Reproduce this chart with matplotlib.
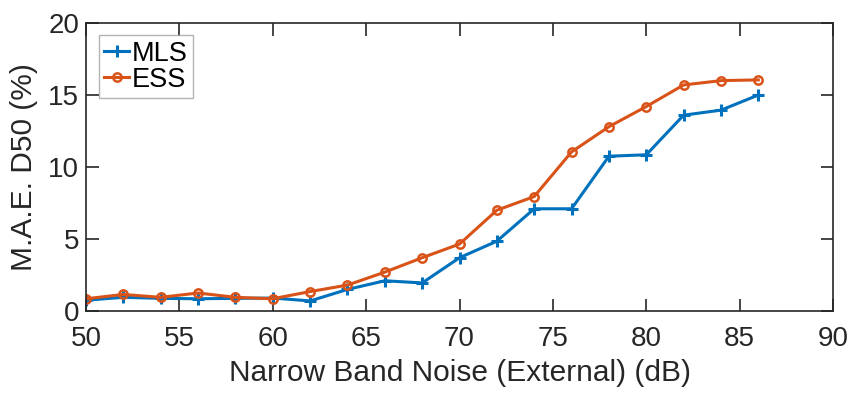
import matplotlib.pyplot as plt

# noise level (dB) and mean absolute error of D50 (%)
noise_db = [50, 52, 54, 56, 58, 60, 62, 64, 66, 68, 70, 72, 74, 76, 78, 80, 82, 84, 86]
mae_mls = [0.75, 0.95, 0.88, 0.85, 0.88, 0.9, 0.7, 1.5, 2.1, 1.95, 3.7, 4.85, 7.1, 7.1, 10.75, 10.85, 13.6, 13.95, 15.0]
mae_ess = [0.85, 1.15, 0.95, 1.25, 0.95, 0.85, 1.35, 1.8, 2.7, 3.7, 4.65, 7.0, 7.95, 11.05, 12.8, 14.2, 15.7, 16.0, 16.05]

plt.rcParams['font.family'] = ['Liberation Sans', 'DejaVu Sans']

fig = plt.figure(figsize=(8.53, 3.97), dpi=100)
ax = fig.add_axes([0.1008, 0.2166, 0.8758, 0.7254])

ax.plot(noise_db, mae_mls, color="#0072BD", linewidth=2.2, marker="+", markersize=8,
        markeredgewidth=2.2, label="MLS")
ax.plot(noise_db, mae_ess, color="#D95319", linewidth=2.2, marker="o", markersize=6,
        markerfacecolor="none", markeredgewidth=1.8, label="ESS")

ax.set_xlim(50, 90)
ax.set_ylim(0, 20)
ax.set_xticks(range(50, 91, 5))
ax.set_yticks(range(0, 21, 5))
ax.tick_params(direction="in", length=9, width=1.2, top=True, right=True,
               labelsize=20, colors="#262626")
ax.tick_params(axis="x", pad=11)
ax.tick_params(axis="y", pad=5)
for spine in ax.spines.values():
    spine.set_linewidth(1.2)
    spine.set_color("#262626")

ax.set_xlabel("Narrow Band Noise (External) (dB)", fontsize=21.5, color="#262626", labelpad=5)
ax.set_ylabel("M.A.E. D50 (%)", fontsize=21.5, color="#262626", labelpad=7)

leg = ax.legend(loc="upper left", fontsize=19.5, handlelength=0.9, handletextpad=0.1,
                borderpad=0.2, labelspacing=0.0, fancybox=False, borderaxespad=0,
                bbox_to_anchor=(0.0175, 0.958))
leg.get_frame().set_edgecolor("#a0a0a0")
leg.get_frame().set_linewidth(1.0)

plt.savefig("out.png", dpi=100)
plt.close()
